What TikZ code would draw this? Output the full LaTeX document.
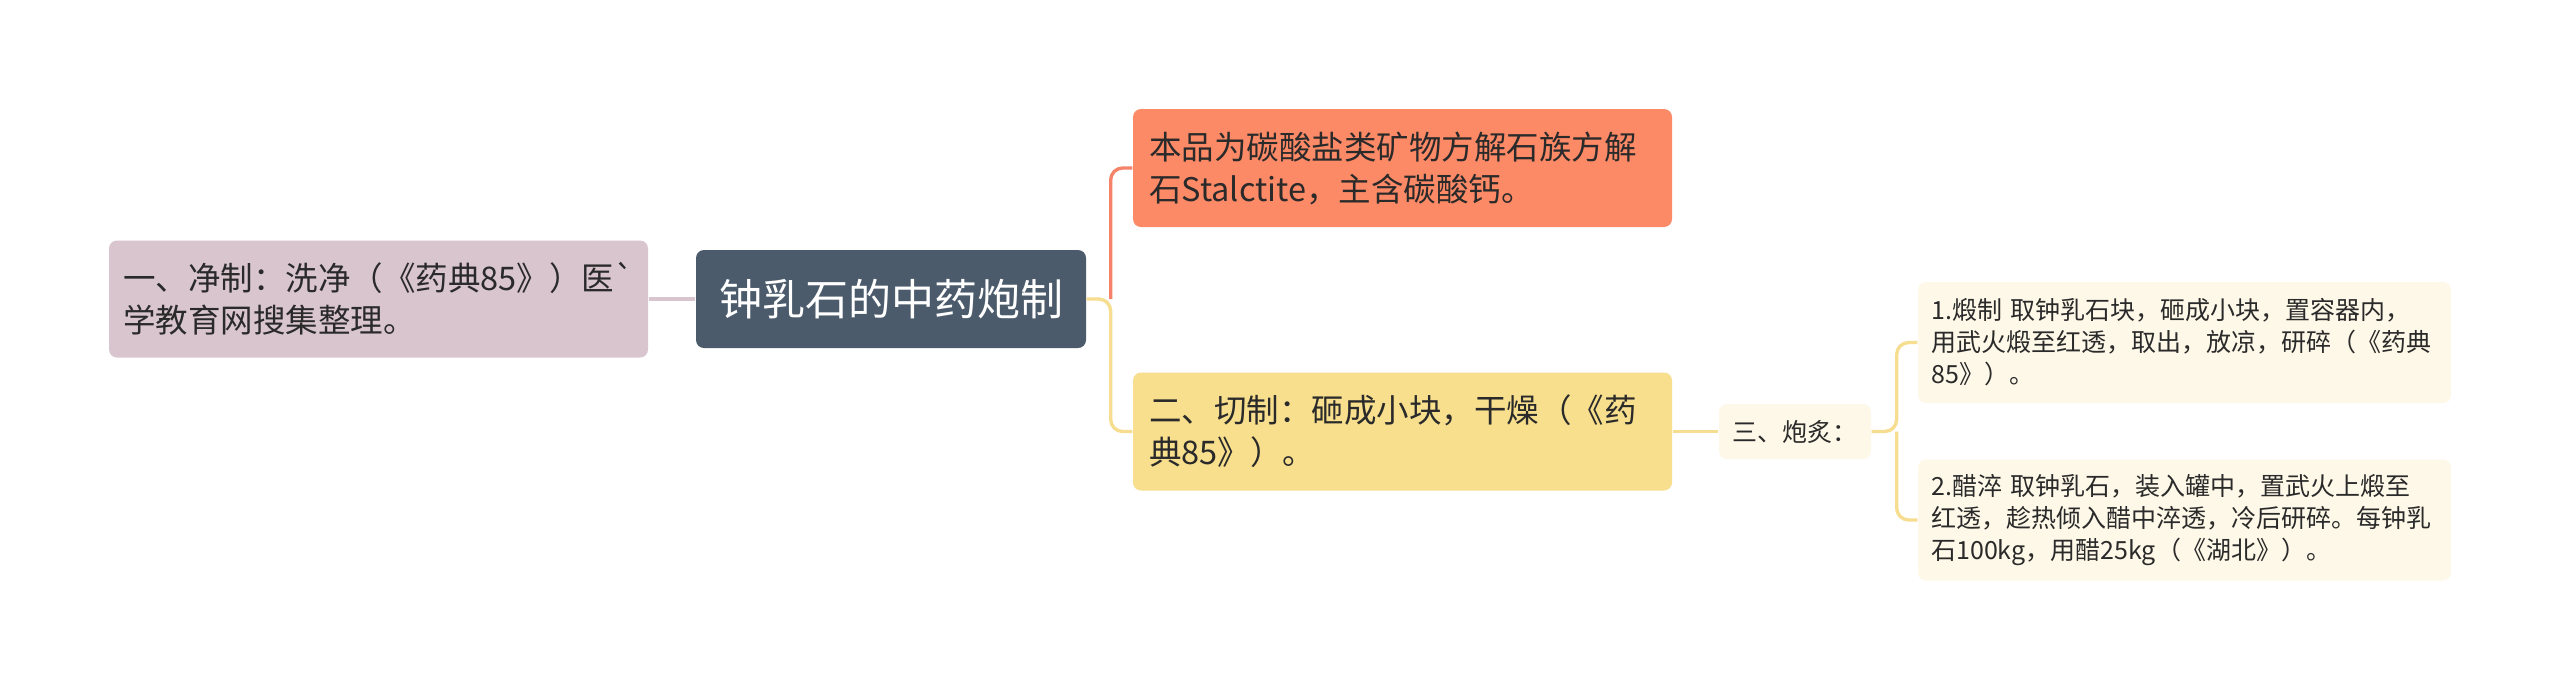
\documentclass[tikz,border=0pt]{standalone}
\usepackage{fontspec}
\newfontfamily\cjkfont{Noto Sans CJK SC}
\definecolor{centralc}{HTML}{4B5B6B}
\definecolor{pinkc}{HTML}{D9C5CE}
\definecolor{orangec}{HTML}{FD8A67}
\definecolor{yellowc}{HTML}{F7DF8E}
\definecolor{creamc}{HTML}{FEF8E8}
\definecolor{orangeln}{HTML}{F4836A}
\definecolor{yellowln}{HTML}{F6DD8F}
\definecolor{pinkln}{HTML}{D9C5CE}
\definecolor{textc}{HTML}{2A2A2A}
\begin{document}
\cjkfont
\begin{tikzpicture}[x=0.3pt,y=-0.3pt,
  box/.style={rounded corners=2.4pt, inner ysep=0pt, align=left, text=textc},
  bigbox/.style={box, text width=152.1pt, inner xsep=4.8pt, minimum height=35.4pt,
    font=\cjkfont\fontsize{9.75pt}{12.6pt}\selectfont},
  smallbox/.style={box, fill=creamc, text width=151.9pt, inner xsep=4pt, minimum height=36.3pt,
    font=\cjkfont\fontsize{7.5pt}{9.6pt}\selectfont},
  link/.style={line width=1pt, rounded corners=3.6pt}]
\useasboundingbox (0,0) rectangle (2560,691);
\fill[white] (0,0) rectangle (2560,691);

\node[rounded corners=2.4pt, fill=centralc, text=white, minimum width=117pt, minimum height=29.4pt,
  inner sep=0pt, font=\cjkfont\fontsize{12.9pt}{15pt}\selectfont] (c) at (891,299) {钟乳石的中药炮制};

\node[bigbox, fill=pinkc, text width=153.3pt, inner xsep=4.2pt, minimum height=35.1pt] (p) at (378.5,299)
  {一、净制：洗净（《药典85》）医`\\学教育网搜集整理。};

\node[bigbox, fill=orangec] (o) at (1402.5,168)
  {本品为碳酸盐类矿物方解石族方解\\石Stalctite，主含碳酸钙。};

\node[bigbox, fill=yellowc] (yl) at (1402.5,431.5)
  {二、切制：砸成小块，干燥（《药\\典85》）。};

\node[rounded corners=2.4pt, fill=creamc, text=textc, minimum width=45.6pt, minimum height=16.5pt,
  inner sep=0pt, font=\cjkfont\fontsize{7.5pt}{9pt}\selectfont] (s) at (1795,431.5) {三、炮炙：};

\node[smallbox] (b1) at (2184.5,342.5)
  {1.煅制 取钟乳石块，砸成小块，置容器内，\\用武火煅至红透，取出，放凉，研碎（《药典\\85》）。};

\node[smallbox] (b2) at (2184.5,520)
  {2.醋淬 取钟乳石，装入罐中，置武火上煅至\\红透，趁热倾入醋中淬透，冷后研碎。每钟乳\\石100kg，用醋25kg（《湖北》）。};

\draw[link, pinkln] (p.east) -- (c.west);
\path (c.east) ++(24,0) coordinate (j1);
\draw[link, yellowln] (c.east) -- (j1) |- (yl.west);
\draw[link, orangeln] (j1) |- (o.west);
\draw[link, yellowln] (yl.east) -- (s.west);
\path (s.east) ++(25,0) coordinate (j2);
\draw[link, yellowln] (s.east) -- (j2) |- (b1.west);
\draw[link, yellowln] (j2) |- (b2.west);
\end{tikzpicture}
\end{document}
